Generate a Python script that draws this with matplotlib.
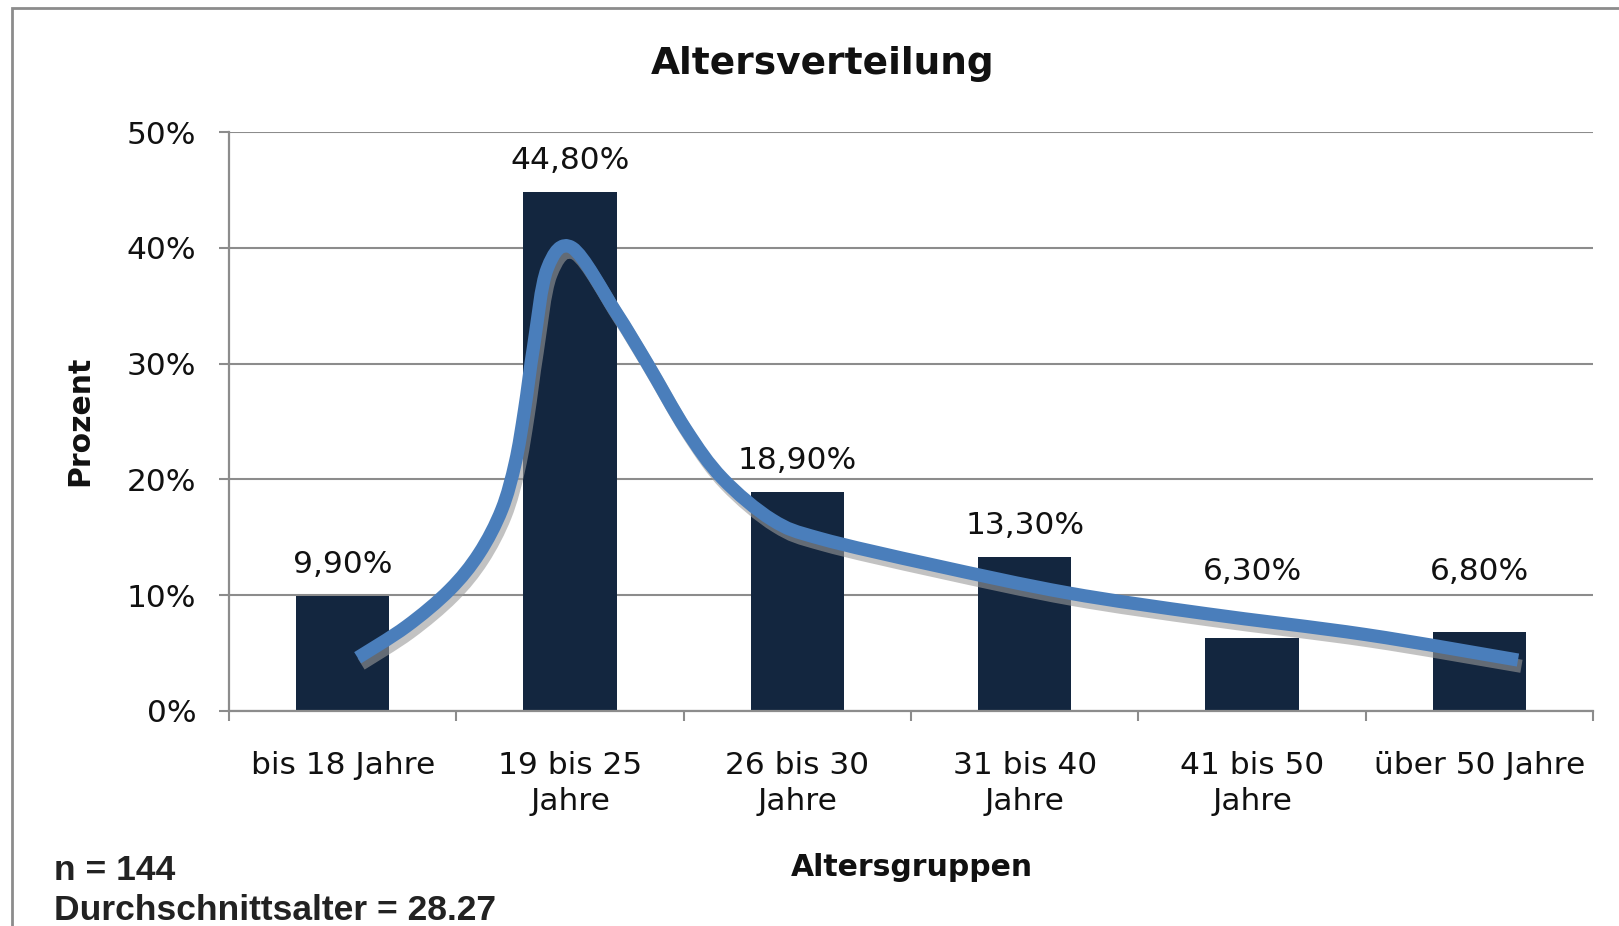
import matplotlib
matplotlib.use("Agg")
import matplotlib.pyplot as plt
from matplotlib.patches import Rectangle, PathPatch
from matplotlib.path import Path
from matplotlib.transforms import ScaledTranslation

categories = ["bis 18 Jahre", "19 bis 25\nJahre", "26 bis 30\nJahre",
              "31 bis 40\nJahre", "41 bis 50\nJahre", "über 50 Jahre"]
values = [9.9, 44.8, 18.9, 13.3, 6.3, 6.8]
value_labels = ["9,90%", "44,80%", "18,90%", "13,30%", "6,30%", "6,80%"]
y_ticks = [0, 10, 20, 30, 40, 50]
y_tick_labels = ["0%", "10%", "20%", "30%", "40%", "50%"]

# hand-drawn trend curve (x in category units)
curve_x = [0.066, 0.28, 0.47, 0.60, 0.70, 0.76, 0.80, 0.84, 0.90,
           1.01, 1.20, 1.34, 1.51, 1.67, 1.89, 2.10,
           2.60, 3.19, 3.80, 4.50, 5.17]
curve_y = [4.6, 7.3, 10.45, 13.6, 17.4, 21.5, 26.0, 31.5, 38.2,
           40.0, 34.5, 30.0, 24.3, 20.1, 16.5, 14.9,
           12.6, 10.2, 8.4, 6.6, 4.4]

# layout only: vertical offsets (points) of the value labels above the bars
label_offsets = [23, 23, 23, 23, 48, 44]

W, H = 1619, 926
fig = plt.figure(figsize=(W / 100, H / 100), dpi=100)
fig.patch.set_facecolor("white")

frame = Rectangle((11.5 / W, -0.05), 1.2, (1 - 8.5 / H) + 0.05, transform=fig.transFigure,
                  fill=False, edgecolor="#8c8c8c", lw=2.0, zorder=0)
fig.patches.append(frame)

ax = fig.add_axes([229 / W, 1 - 711 / H, 1364 / W, 579 / H])
grey = "#8c8c8c"
x = list(range(len(categories)))
ax.bar(x, values, width=0.41, color="#13263f", zorder=2)

# smoothed line (Excel-style Bezier smoothing through the read points)
pts = list(zip(curve_x, curve_y))
verts = [pts[0]]
codes = [Path.MOVETO]
n = len(pts)
for i in range(n - 1):
    p0 = pts[i - 1] if i > 0 else pts[i]
    p1 = pts[i]
    p2 = pts[i + 1]
    p3 = pts[i + 2] if i + 2 < n else pts[i + 1]
    c1 = (p1[0] + (p2[0] - p0[0]) / 6, p1[1] + (p2[1] - p0[1]) / 6)
    c2 = (p2[0] - (p3[0] - p1[0]) / 6, p2[1] - (p3[1] - p1[1]) / 6)
    verts += [c1, c2, p2]
    codes += [Path.CURVE4] * 3
path = Path(verts, codes)

shadow = PathPatch(path, fill=False, edgecolor="#9a9a9a", lw=9.5, alpha=0.6,
                   capstyle="butt", joinstyle="round", zorder=2.9,
                   transform=ax.transData + ScaledTranslation(2.5 / 72, -4.5 / 72,
                                                              fig.dpi_scale_trans))
ax.add_patch(shadow)
curve = PathPatch(path, fill=False, edgecolor="#4a7ebb", lw=9.5,
                  capstyle="butt", joinstyle="round", zorder=3)
ax.add_patch(curve)

for xi, v, lab, off in zip(x, values, value_labels, label_offsets):
    ax.annotate(lab, (xi, v), xytext=(0, off), textcoords="offset points",
                ha="center", va="center", fontsize=22.5, color="#111111", zorder=4)

ax.set_xlim(-0.5, 5.5)
ax.set_ylim(0, 50)
ax.set_yticks(y_ticks)
ax.set_yticklabels(y_tick_labels)
ax.set_xticks(x)
ax.set_xticklabels(categories, linespacing=1.3)
ax.set_xticks([i - 0.5 for i in range(len(categories) + 1)], minor=True)
ax.tick_params(axis="x", which="major", length=0, pad=29, labelsize=22.5, labelcolor="#111111")
ax.tick_params(axis="x", which="minor", length=7.5, width=1.5, color=grey, direction="out")
ax.tick_params(axis="y", length=7.5, width=1.5, color=grey, pad=16, labelsize=22.5,
               labelcolor="#111111")

ax.yaxis.grid(True, color=grey, lw=1.5, zorder=0)
ax.set_axisbelow(True)
for s in ["top", "right"]:
    ax.spines[s].set_visible(False)
for s in ["left", "bottom"]:
    ax.spines[s].set_color(grey)
    ax.spines[s].set_linewidth(1.6)
ax.spines["bottom"].set_zorder(5)

fig.text(823 / W, 1 - 64 / H, "Altersverteilung", ha="center", va="center",
         fontsize=27, fontweight="bold", color="#111111")
fig.text(80 / W, 1 - 421 / H, "Prozent", rotation=90, ha="center", va="center",
         fontsize=21.5, fontweight="bold", color="#111111")
fig.text(912 / W, 1 - 867 / H, "Altersgruppen", ha="center", va="center",
         fontsize=21.5, fontweight="bold", color="#111111")
fig.text(54 / W, 1 - 871 / H, "n = 144", ha="left", va="center",
         fontsize=25.5, fontweight="bold", family="Liberation Sans", color="#222222")
fig.text(54 / W, 1 - 910 / H, "Durchschnittsalter = 28.27", ha="left", va="center",
         fontsize=25.5, fontweight="bold", family="Liberation Sans", color="#222222")

fig.savefig("out.png", dpi=100, facecolor="white")
